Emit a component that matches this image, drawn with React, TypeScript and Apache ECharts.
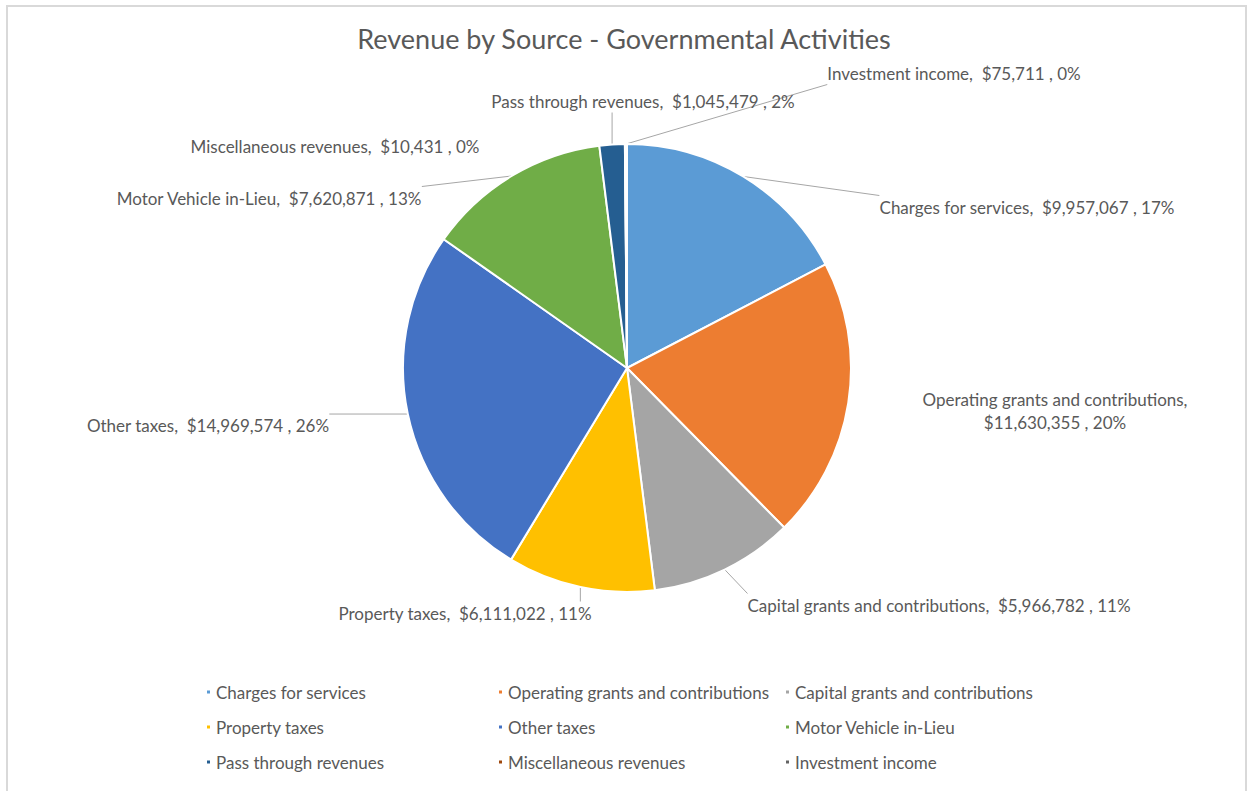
import React, { useEffect, useRef } from "react";
import * as echarts from "echarts";

const categories = [
  "Charges for services",
  "Operating grants and contributions",
  "Capital grants and contributions",
  "Property taxes",
  "Other taxes",
  "Motor Vehicle in-Lieu",
  "Pass through revenues",
  "Miscellaneous revenues",
  "Investment income",
];
const revenues = [9957067, 11630355, 5966782, 6111022, 14969574, 7620871, 1045479, 10431, 75711];
const colors = ["#5B9BD5", "#ED7D31", "#A5A5A5", "#FFC000", "#4472C4", "#70AD47", "#255E91", "#9E480E", "#636363"];

// layout (kept apart from the data)
const labelCenters: number[][] = [
  [1027, 207],
  [1055, 411],
  [939, 605],
  [465, 613],
  [208, 425],
  [269, 198],
  [643, 101],
  [335, 146],
  [954, 73],
];
const noLeader = [false, true, false, false, false, false, false, true, false];
const legendCols = [205, 497, 784];
const legendRows = [692, 727, 762];

const FONT = "Lato, 'Open Sans', sans-serif";
const TEXT = "#595959";

export default function App() {
  const ref = useRef<HTMLDivElement>(null);
  useEffect(() => {
    if (!ref.current) return;
    const chart = echarts.init(ref.current, undefined, { renderer: "svg" });
    const legends = categories.map((name, i) => ({
      data: [name],
      left: legendCols[i % 3],
      top: legendRows[Math.floor(i / 3)] - 10,
      padding: 0,
      itemWidth: 5,
      itemHeight: 5,
      icon: "rect",
      selectedMode: false,
      textStyle: { fontSize: 17, color: TEXT, fontFamily: FONT, lineHeight: 20 },
    }));
    chart.setOption({
      animation: false,
      backgroundColor: "#ffffff",
      color: colors,
      title: {
        text: "Revenue by Source - Governmental Activities",
        left: "center",
        top: 20,
        textStyle: { fontSize: 27, fontWeight: "normal", color: TEXT, fontFamily: FONT },
      },
      legend: legends,
      graphic: [
        {
          type: "rect",
          shape: { x: 7, y: 6, width: 1239, height: 820 },
          style: { fill: "none", stroke: "#d9d9d9", lineWidth: 2 },
          silent: true,
        },
      ],
      series: [
        {
          type: "pie",
          center: [627, 368],
          radius: 224,
          startAngle: 90,
          clockwise: true,
          avoidLabelOverlap: false,
          percentPrecision: 0,
          itemStyle: { borderColor: "#ffffff", borderWidth: 2 },
          label: {
            show: true,
            position: "outside",
            color: TEXT,
            fontSize: 17,
            fontFamily: FONT,
            lineHeight: 23,
            formatter: (p: any) => {
              const sep = p.dataIndex === 1 ? ",\n" : ",\u00a0 ";
              return `${p.name}${sep}$${Number(p.value).toLocaleString("en-US")} , ${p.percent}%`;
            },
          },
          labelLine: { show: true, length: 10, length2: 0, lineStyle: { color: "#a6a6a6", width: 1 } },
          labelLayout: (params: any) => {
            const [cx, cy] = labelCenters[params.dataIndex];
            const w = params.labelRect.width;
            const h = params.labelRect.height;
            const res: any = { x: cx, y: cy, align: "center", verticalAlign: "middle" };
            const pts = params.labelLinePoints;
            if (pts && pts.length) {
              const a = pts[0];
              const ex = Math.min(Math.max(a[0], cx - w / 2), cx + w / 2);
              const ey = Math.min(Math.max(a[1], cy - h / 2), cy + h / 2);
              res.labelLinePoints = [
                [a[0], a[1]],
                [ex, ey],
                [ex, ey],
              ];
            }
            return res;
          },
          data: categories.map((name, i) => ({
            name,
            value: revenues[i],
            labelLine: noLeader[i] ? { show: false } : undefined,
          })),
        },
      ],
    });
    return () => chart.dispose();
  }, []);
  return (
    <div
      ref={ref}
      style={{ position: "fixed", left: 0, top: 0, width: 1248, height: 791, background: "#fff" }}
    />
  );
}
